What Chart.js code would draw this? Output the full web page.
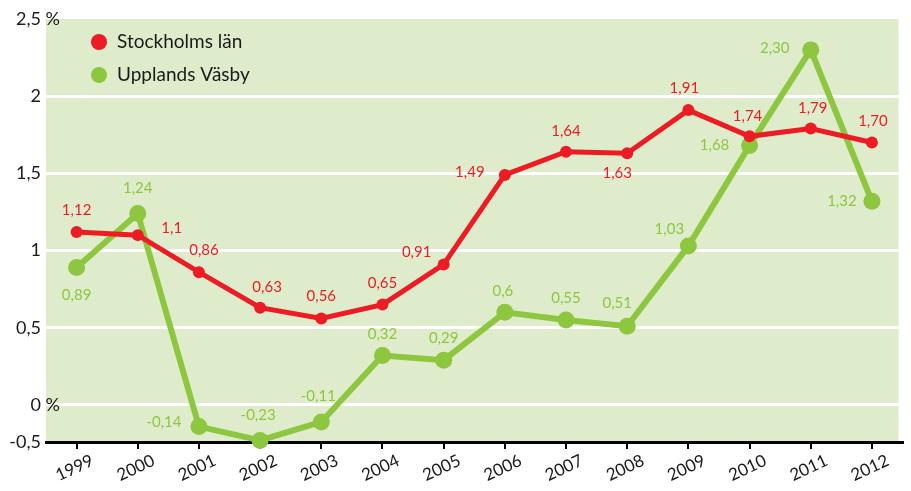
<!DOCTYPE html>
<html>
<head>
<meta charset="utf-8">
<script src="https://cdn.jsdelivr.net/npm/chart.js@4.4.1/dist/chart.umd.min.js"></script>
<style>
  html, body { margin: 0; padding: 0; background: #fff; }
  #wrap { width: 911px; height: 491px; position: relative; }
</style>
</head>
<body>
<div id="wrap"><canvas id="myChart"></canvas></div>
<script>
const years = ['1999', '2000', '2001', '2002', '2003', '2004', '2005', '2006', '2007', '2008', '2009', '2010', '2011', '2012'];

const stockholm = [1.12, 1.1, 0.86, 0.63, 0.56, 0.65, 0.91, 1.49, 1.64, 1.63, 1.91, 1.74, 1.79, 1.70];
const stockholmLabels = ['1,12', '1,1', '0,86', '0,63', '0,56', '0,65', '0,91', '1,49', '1,64', '1,63', '1,91', '1,74', '1,79', '1,70'];

const vasby = [0.89, 1.24, -0.14, -0.23, -0.11, 0.32, 0.29, 0.6, 0.55, 0.51, 1.03, 1.68, 2.30, 1.32];
const vasbyLabels = ['0,89', '1,24', '-0,14', '-0,23', '-0,11', '0,32', '0,29', '0,6', '0,55', '0,51', '1,03', '1,68', '2,30', '1,32'];

const yTicks = [0, 0.5, 1, 1.5, 2, 2.5];
const yTickLabels = ['0 %', '0,5', '1', '1,5', '2', '2,5 %'];
const yBottomLabel = '-0,5';

// where each value label sits relative to its point (dx, dy)
const stockholmLabelPos = [[0, -22], [34, -7], [5, -22], [7, -21], [0, -22], [0, -21], [-27, -12],
  [-35, -3], [0, -21], [-10, 20], [-4, -22], [-2, -20], [2, -20], [1, -21]];
const vasbyLabelPos = [[0, 28], [0, -25], [-35, -4], [-2, -25], [-3, -26], [0, -21], [0, -22],
  [-2, -21], [0, -22], [-10, -23], [-19, -17], [-35, 0], [-36, -2], [-30, 0]];

const RED = '#ed1c24';
const GREEN = '#8dc63f';
const BG = '#dfeccb';
const FONT = 'Lato, "Open Sans", sans-serif';

const decor = {
  id: 'decor',
  beforeDraw(chart) {
    const { ctx, chartArea: a } = chart;
    ctx.save();
    ctx.fillStyle = BG;
    ctx.fillRect(a.left, a.top, a.right - a.left - 4, a.bottom - a.top);
    ctx.restore();
  },
  afterDraw(chart) {
    const { ctx, scales: { x, y } } = chart;
    ctx.save();

    // y labels, number right-aligned, unit hanging over the plot
    ctx.fillStyle = '#1a1a1a';
    ctx.font = '18px ' + FONT;
    ctx.textBaseline = 'middle';
    const drawY = (txt, py) => {
      const [num, unit] = txt.split(' ');
      ctx.textAlign = 'right';
      ctx.fillText(num, 41, py);
      if (unit) {
        ctx.textAlign = 'left';
        ctx.fillText(' ' + unit, 41, py);
      }
    };
    yTicks.forEach((v, i) => drawY(yTickLabels[i], y.getPixelForValue(v)));
    drawY(yBottomLabel, y.getPixelForValue(y.min));

    // rotated year labels
    ctx.font = '17px ' + FONT;
    ctx.textAlign = 'center';
    years.forEach((yr, i) => {
      ctx.save();
      ctx.translate(x.getPixelForTick(i) - 2, 468);
      ctx.rotate(-25 * Math.PI / 180);
      ctx.fillText(yr, 0, 0);
      ctx.restore();
    });

    // value labels
    ctx.font = '15px ' + FONT;
    const sets = [[stockholmLabels, stockholmLabelPos, RED], [vasbyLabels, vasbyLabelPos, GREEN]];
    sets.forEach(([texts, pos, color], di) => {
      const meta = chart.getDatasetMeta(di);
      ctx.fillStyle = color;
      meta.data.forEach((pt, i) => {
        ctx.fillText(texts[i], pt.x + pos[i][0], pt.y + pos[i][1]);
      });
    });

    // legend
    ctx.font = '19px ' + FONT;
    ctx.textAlign = 'left';
    chart.data.datasets.forEach((ds, i) => {
      const cy = 42 + i * 33;
      ctx.fillStyle = ds.borderColor;
      ctx.beginPath();
      ctx.arc(99, cy, 8, 0, Math.PI * 2);
      ctx.fill();
      ctx.fillStyle = '#1a1a1a';
      ctx.fillText(ds.label, 117, cy);
    });

    ctx.restore();
  }
};

const ctx = document.getElementById('myChart').getContext('2d');
const chart = new Chart(ctx, {
  type: 'line',
  data: {
    labels: years,
    datasets: [
      {
        label: 'Stockholms län',
        data: stockholm,
        borderColor: RED,
        backgroundColor: RED,
        borderWidth: 5,
        pointRadius: 6,
        pointBorderWidth: 0,
        tension: 0,
        clip: false
      },
      {
        label: 'Upplands Väsby',
        data: vasby,
        borderColor: GREEN,
        backgroundColor: GREEN,
        borderWidth: 6,
        pointRadius: 8.5,
        pointBorderWidth: 0,
        tension: 0,
        clip: false
      }
    ]
  },
  options: {
    responsive: true,
    maintainAspectRatio: false,
    animation: false,
    devicePixelRatio: 1,
    layout: { padding: { left: 46, right: 2, top: 19, bottom: 0 } },
    plugins: { legend: { display: false }, tooltip: { enabled: false } },
    scales: {
      x: {
        offset: true,
        ticks: { display: false },
        grid: { drawOnChartArea: false, drawTicks: true, tickLength: 7, color: '#000', lineWidth: 2, offset: false },
        border: { display: true, color: '#000', width: 3 },
        afterFit: s => { s.height = 49; }
      },
      y: {
        min: -0.24,
        max: 2.5,
        ticks: { display: false },
        grid: {
          drawTicks: false,
          lineWidth: 3,
          color: c => (c.tick && c.tick.value >= 0 && c.tick.value <= 2) ? '#ffffff' : 'rgba(0,0,0,0)'
        },
        border: { display: false },
        afterBuildTicks: s => { s.ticks = yTicks.map(v => ({ value: v })); },
        afterFit: s => { s.width = 0; }
      }
    }
  },
  plugins: [decor]
});
</script>
</body>
</html>
